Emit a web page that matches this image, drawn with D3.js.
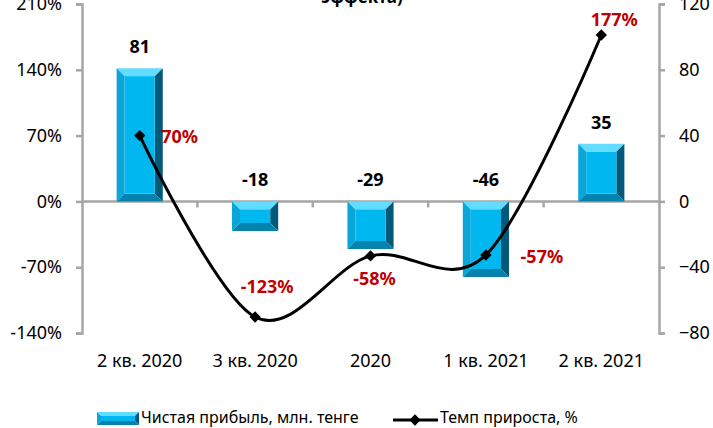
<!DOCTYPE html>
<html>
<head>
<meta charset="utf-8">
<script src="https://cdn.jsdelivr.net/npm/d3@7"></script>
<style>
  body { margin: 0; background: #fff; }
  svg { display: block; font-family: "Noto Sans", sans-serif; }
</style>
</head>
<body>
<div id="chart"></div>
<script>
// ---- data ----
const categories = ["2 кв. 2020", "3 кв. 2020", "2020", "1 кв. 2021", "2 кв. 2021"];
const profit = [81, -18, -29, -46, 35];          // млн. тенге (right axis)
const growth = [70, -123, -58, -57, 177];        // % (left axis)
const leftTicks = [210, 140, 70, 0, -70, -140];
const rightTicks = [120, 80, 40, 0, -40, -80];
const seriesNames = ["Чистая прибыль, млн. тенге", "Темп прироста, %"];
const titleTail = "эффекта)";

// manual nudges of the red labels (label centre / baseline vs. the point)
const growthLabelNudge = [[40, 7], [12, -24], [4, 29], [56, 8], [13, -9]];

const width = 713, height = 428;
const plot = { left: 82, right: 659, top: 4, bottom: 333 };

const svg = d3.select("#chart").append("svg")
  .attr("width", width).attr("height", height);

// ---- scales ----
const x = d3.scaleBand()
  .domain(categories)
  .range([plot.left, plot.right])
  .paddingInner(0.6)
  .paddingOuter(0.3);

const yLeft = d3.scaleLinear().domain([-140, 210]).range([plot.bottom, plot.top]);
const yRight = d3.scaleLinear().domain([-80, 120]).range([plot.bottom, plot.top]);

const axisColor = "#a6a6a6";

// title (cut off at top)
svg.append("text")
  .attr("x", 362).attr("y", 3)
  .attr("text-anchor", "middle")
  .style("font-size", "17px").style("font-weight", "bold")
  .text(titleTail);

// ---- axes ----
const gl = svg.append("g").attr("transform", `translate(${plot.left},0)`)
  .call(d3.axisLeft(yLeft).tickValues(leftTicks).tickFormat(d => d + "%").tickSize(6).tickPadding(14));
const gr = svg.append("g").attr("transform", `translate(${plot.right},0)`)
  .call(d3.axisRight(yRight).tickValues(rightTicks).tickSize(6).tickPadding(14));

[gl, gr].forEach(g => {
  g.select(".domain").attr("stroke", axisColor).attr("stroke-width", 2.5);
  g.selectAll(".tick line").attr("stroke", axisColor).attr("stroke-width", 2.5);
  g.selectAll(".tick text").attr("fill", "#000").style("font-size", "18px").style("font-family", "'Noto Sans', sans-serif");
});

// zero line with category ticks
const y0 = yRight(0);
const gx = svg.append("g").attr("transform", `translate(0,${y0})`);
gx.append("line").attr("x1", plot.left).attr("x2", plot.right)
  .attr("stroke", axisColor).attr("stroke-width", 2.5);
const step = x.step();
gx.selectAll(".ctick").data(d3.range(1, categories.length))
  .join("line")
  .attr("x1", i => plot.left + i * step).attr("x2", i => plot.left + i * step)
  .attr("y1", 0).attr("y2", 6)
  .attr("stroke", axisColor).attr("stroke-width", 2.5);

// category labels
svg.append("g").selectAll("text").data(categories).join("text")
  .attr("x", d => x(d) + x.bandwidth() / 2)
  .attr("y", 367)
  .attr("text-anchor", "middle")
  .style("font-size", "18px")
  .text(d => d);

// ---- bevelled bars ----
function bevelBar(g, x0, y0b, w, h, bev) {
  const b = Math.min(bev, h / 2, w / 2);
  const x1 = x0 + w, y1 = y0b + h;
  const poly = (pts, fill) => g.append("polygon")
    .attr("points", pts.map(p => p.join(",")).join(" "))
    .attr("fill", fill);
  poly([[x0, y0b], [x1, y0b], [x1 - b, y0b + b], [x0 + b, y0b + b]], "#62dcff");
  poly([[x0, y0b], [x0 + b, y0b + b], [x0 + b, y1 - b], [x0, y1]], "#0aa6d8");
  poly([[x1, y0b], [x1, y1], [x1 - b, y1 - b], [x1 - b, y0b + b]], "#035a78");
  poly([[x0, y1], [x0 + b, y1 - b], [x1 - b, y1 - b], [x1, y1]], "#0582ad");
  g.append("rect").attr("x", x0 + b).attr("y", y0b + b)
    .attr("width", Math.max(0, w - 2 * b)).attr("height", Math.max(0, h - 2 * b))
    .attr("fill", "#00b7ef");
}

const bars = svg.append("g");
categories.forEach((c, i) => {
  const v = profit[i];
  const top = Math.min(yRight(v), y0);
  const h = Math.abs(yRight(v) - y0);
  bevelBar(bars.append("g"), x(c), top, x.bandwidth(), h, 8);
});

// bar value labels
svg.append("g").selectAll("text").data(categories).join("text")
  .attr("x", d => x(d) + x.bandwidth() / 2)
  .attr("y", (d, i) => profit[i] >= 0 ? yRight(profit[i]) - 15 : y0 - 15)
  .attr("text-anchor", "middle")
  .style("font-size", "18px").style("font-weight", "bold")
  .text((d, i) => profit[i]);

// ---- growth line ----
const pts = categories.map((c, i) => [x(c) + x.bandwidth() / 2, yLeft(growth[i])]);
svg.append("path")
  .attr("d", d3.line().curve(d3.curveCardinal.tension(0))(pts))
  .attr("fill", "none").attr("stroke", "#000").attr("stroke-width", 3);

svg.append("g").selectAll("path").data(pts).join("path")
  .attr("transform", d => `translate(${d[0]},${d[1]}) rotate(45)`)
  .attr("d", "M-4,-4H4V4H-4Z")
  .attr("fill", "#000");

// growth labels
const red = "#c00000";
svg.append("g").selectAll("text").data(pts).join("text")
  .attr("x", (d, i) => d[0] + growthLabelNudge[i][0])
  .attr("y", (d, i) => d[1] + growthLabelNudge[i][1])
  .attr("text-anchor", "middle")
  .attr("fill", red)
  .style("font-size", "18px").style("font-weight", "bold")
  .text((d, i) => growth[i] + "%");

// ---- legend ----
const lg = svg.append("g").attr("transform", "translate(0,418)");
bevelBar(lg.append("g"), 97, -6, 42, 13, 4);
lg.append("text").attr("x", 141).attr("y", 5)
  .style("font-size", "16px").text(seriesNames[0]);
lg.append("line").attr("x1", 393).attr("x2", 438).attr("y1", 2).attr("y2", 2)
  .attr("stroke", "#000").attr("stroke-width", 3);
lg.append("path").attr("transform", "translate(415,2) rotate(45)")
  .attr("d", "M-4,-4H4V4H-4Z").attr("fill", "#000");
lg.append("text").attr("x", 440).attr("y", 5)
  .style("font-size", "16px").text(seriesNames[1]);
</script>
</body>
</html>
